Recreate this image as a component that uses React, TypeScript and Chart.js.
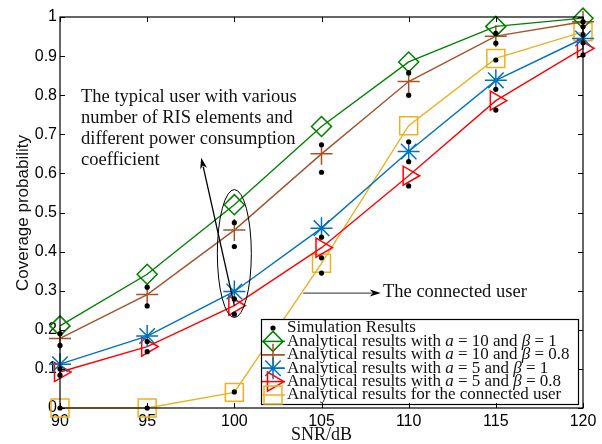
import React, { useEffect, useRef } from 'react';
import { Chart, registerables } from 'chart.js';
Chart.register(...registerables);

const snr = [90, 95, 100, 105, 110, 115, 120];
const xTicks = [90, 95, 100, 105, 110, 115, 120];
const yTicks = [0, 0.1, 0.2, 0.3, 0.4, 0.5, 0.6, 0.7, 0.8, 0.9, 1];

const anaA10B1 = [0.21, 0.342, 0.52, 0.72, 0.885, 0.976, 0.997];
const anaA10B08 = [0.178, 0.29, 0.455, 0.65, 0.835, 0.951, 0.988];
const anaA5B1 = [0.112, 0.184, 0.298, 0.46, 0.656, 0.838, 0.945];
const anaA5B08 = [0.092, 0.157, 0.262, 0.41, 0.594, 0.786, 0.92];
const anaConnected = [0, 0, 0.04, 0.37, 0.722, 0.894, 0.962];

const simA10B1 = [0.19, 0.309, 0.474, 0.673, 0.857, 0.958, 0.988];
const simA10B08 = [0.16, 0.261, 0.413, 0.603, 0.8, 0.933, 0.975];
const simA5B1 = [0.1, 0.17, 0.279, 0.437, 0.63, 0.815, 0.934];
const simA5B08 = [0.084, 0.144, 0.24, 0.384, 0.568, 0.762, 0.903];
const simConnected = [0, 0, 0.041, 0.345, 0.681, 0.89, 0.955];

const GREEN = '#008000';
const BROWN = '#A5522A';
const BLUE = '#0072BD';
const RED = '#FF0000';
const ORANGE = '#EDB120';

const SERIF = '"Liberation Serif", "Times New Roman", serif';
const SANS = '"Liberation Sans", Arial, sans-serif';

type Part = [string, boolean];

const legendEntries: { color: string; marker: string; parts: Part[] }[] = [
  { color: '#000', marker: 'dot', parts: [['Simulation Results', false]] },
  { color: GREEN, marker: 'diamond', parts: [['Analytical results with ', false], ['a', true], [' = 10 and ', false], ['β', true], [' = 1', false]] },
  { color: BROWN, marker: 'plus', parts: [['Analytical results with ', false], ['a', true], [' = 10 and ', false], ['β', true], [' = 0.8', false]] },
  { color: BLUE, marker: 'star', parts: [['Analytical results with ', false], ['a', true], [' = 5 and ', false], ['β', true], [' = 1', false]] },
  { color: RED, marker: 'tri', parts: [['Analytical results with ', false], ['a', true], [' = 5 and ', false], ['β', true], [' = 0.8', false]] },
  { color: ORANGE, marker: 'square', parts: [['Analytical results for the connected user', false]] },
];

const annoLines = [
  'The typical user with various',
  'number of RIS elements and',
  'different power consumption',
  'coefficient',
];

function drawMarker(ctx: CanvasRenderingContext2D, type: string, x: number, y: number, color: string) {
  ctx.save();
  ctx.strokeStyle = color;
  ctx.fillStyle = color;
  ctx.lineWidth = 1.5;
  ctx.beginPath();
  if (type === 'dot') {
    ctx.arc(x, y, 2.6, 0, Math.PI * 2);
    ctx.fill();
  } else if (type === 'diamond') {
    const r = 10;
    ctx.moveTo(x, y - r); ctx.lineTo(x + r, y); ctx.lineTo(x, y + r); ctx.lineTo(x - r, y); ctx.closePath();
    ctx.stroke();
  } else if (type === 'plus') {
    const r = 11;
    ctx.moveTo(x - r, y); ctx.lineTo(x + r, y); ctx.moveTo(x, y - r); ctx.lineTo(x, y + r);
    ctx.stroke();
  } else if (type === 'star') {
    const r = 11;
    const d = r * Math.SQRT1_2;
    ctx.moveTo(x - r, y); ctx.lineTo(x + r, y); ctx.moveTo(x, y - r); ctx.lineTo(x, y + r);
    ctx.moveTo(x - d, y - d); ctx.lineTo(x + d, y + d); ctx.moveTo(x - d, y + d); ctx.lineTo(x + d, y - d);
    ctx.stroke();
  } else if (type === 'tri') {
    const r = 11;
    ctx.moveTo(x + r, y); ctx.lineTo(x - r / 2, y - r * 0.866); ctx.lineTo(x - r / 2, y + r * 0.866); ctx.closePath();
    ctx.stroke();
  } else if (type === 'square') {
    const h = 9;
    ctx.rect(x - h, y - h, 2 * h, 2 * h);
    ctx.stroke();
  }
  ctx.restore();
}

function drawArrow(ctx: CanvasRenderingContext2D, x0: number, y0: number, x1: number, y1: number, lineColor: string) {
  const ang = Math.atan2(y1 - y0, x1 - x0);
  const L = 9, W = 3.5;
  const bx = x1 - L * Math.cos(ang), by = y1 - L * Math.sin(ang);
  ctx.save();
  ctx.strokeStyle = lineColor;
  ctx.lineWidth = 1.3;
  ctx.beginPath();
  ctx.moveTo(x0, y0);
  ctx.lineTo(bx, by);
  ctx.stroke();
  ctx.fillStyle = '#000';
  ctx.beginPath();
  ctx.moveTo(x1, y1);
  ctx.lineTo(bx - W * Math.sin(ang) - 2 * Math.cos(ang), by + W * Math.cos(ang) - 2 * Math.sin(ang));
  ctx.lineTo(bx + 1 * Math.cos(ang), by + 1 * Math.sin(ang));
  ctx.lineTo(bx + W * Math.sin(ang) - 2 * Math.cos(ang), by - W * Math.cos(ang) - 2 * Math.sin(ang));
  ctx.closePath();
  ctx.fill();
  ctx.restore();
}

const decorPlugin = {
  id: 'decor',
  afterDraw(chart: any) {
    const ctx: CanvasRenderingContext2D = chart.ctx;
    const xs = chart.scales.x;
    const ys = chart.scales.y;
    const { left, right, top, bottom } = chart.chartArea;

    // ellipse around 100 dB
    ctx.save();
    ctx.strokeStyle = '#000';
    ctx.lineWidth = 1;
    ctx.beginPath();
    ctx.ellipse(xs.getPixelForValue(100), ys.getPixelForValue(0.395), 17, 64, 0, 0, Math.PI * 2);
    ctx.stroke();
    ctx.restore();

    // arrows
    drawArrow(ctx, xs.getPixelForValue(100), ys.getPixelForValue(0.262), xs.getPixelForValue(98.1), ys.getPixelForValue(0.64), '#000');
    drawArrow(ctx, xs.getPixelForValue(103.95), ys.getPixelForValue(0.294), xs.getPixelForValue(108.4), ys.getPixelForValue(0.294), '#555');

    // annotation texts
    ctx.save();
    ctx.fillStyle = '#111';
    ctx.font = `18.5px ${SERIF}`;
    ctx.textBaseline = 'middle';
    ctx.textAlign = 'left';
    annoLines.forEach((t, i) => ctx.fillText(t, 81, 97 + i * 21));
    ctx.fillText('The connected user', 383, 292);
    ctx.restore();

    // legend
    const lx = 261, ly = 319, lw = 317, lh = 85;
    ctx.save();
    ctx.fillStyle = '#fff';
    ctx.fillRect(lx, ly, lw, lh);
    ctx.strokeStyle = '#000';
    ctx.lineWidth = 1.2;
    ctx.strokeRect(lx + 0.5, ly + 0.5, lw, lh);
    legendEntries.forEach((e, i) => {
      const cy = 328 + i * 13.4;
      if (e.marker !== 'dot') {
        ctx.strokeStyle = e.color;
        ctx.lineWidth = 1.5;
        ctx.beginPath();
        ctx.moveTo(262, cy);
        ctx.lineTo(285, cy);
        ctx.stroke();
      }
      drawMarker(ctx, e.marker, 273, cy, e.color);
      let tx = 287;
      ctx.fillStyle = '#111';
      ctx.textBaseline = 'middle';
      ctx.textAlign = 'left';
      e.parts.forEach(([t, it]) => {
        ctx.font = `${it ? 'italic ' : ''}17px ${SERIF}`;
        ctx.fillText(t, tx, cy);
        tx += ctx.measureText(t).width;
      });
    });
    ctx.restore();

    // frame and inward ticks
    ctx.save();
    ctx.strokeStyle = '#000';
    ctx.lineWidth = 1.2;
    ctx.strokeRect(left, top, right - left, bottom - top);
    ctx.lineWidth = 1;
    ctx.beginPath();
    xTicks.forEach((v) => {
      const px = Math.round(xs.getPixelForValue(v)) + 0.5;
      ctx.moveTo(px, bottom); ctx.lineTo(px, bottom - 5);
      ctx.moveTo(px, top); ctx.lineTo(px, top + 5);
    });
    yTicks.forEach((v) => {
      const py = Math.round(ys.getPixelForValue(v)) + 0.5;
      ctx.moveTo(left, py); ctx.lineTo(left + 5, py);
      ctx.moveTo(right, py); ctx.lineTo(right - 5, py);
    });
    ctx.stroke();
    ctx.restore();

    // axis titles
    ctx.save();
    ctx.fillStyle = '#111';
    ctx.textAlign = 'center';
    ctx.textBaseline = 'middle';
    ctx.font = `18px ${SERIF}`;
    ctx.fillText('SNR/dB', (left + right) / 2, 435);
    ctx.translate(23, 213);
    ctx.rotate(-Math.PI / 2);
    ctx.font = `17px ${SANS}`;
    ctx.fillText('Coverage probability', 0, 0);
    ctx.restore();
  },
};

function pts(arr: number[]) {
  return snr.map((x, i) => ({ x, y: arr[i] }));
}

function anaDs(label: string, arr: number[], color: string, style: string, radius: number, rotation = 0) {
  return {
    label,
    data: pts(arr),
    borderColor: color,
    backgroundColor: 'transparent',
    borderWidth: 1.4,
    pointStyle: style,
    pointRadius: radius,
    pointRotation: rotation,
    pointBorderColor: color,
    pointBackgroundColor: 'transparent',
    pointBorderWidth: 1.5,
    tension: 0,
    clip: false,
    order: 2,
  };
}

function simDs(label: string, arr: number[]) {
  return {
    label,
    data: pts(arr),
    showLine: false,
    pointStyle: 'circle',
    pointRadius: 2.6,
    pointBorderWidth: 0,
    pointBackgroundColor: '#000',
    pointBorderColor: '#000',
    borderColor: '#000',
    clip: false,
    order: 0,
  };
}

export default function App() {
  const ref = useRef<HTMLCanvasElement>(null);
  useEffect(() => {
    if (!ref.current) return;
    const chart = new Chart(ref.current, {
      type: 'line',
      data: {
        datasets: [
          simDs('sim1', simA10B1),
          simDs('sim2', simA10B08),
          simDs('sim3', simA5B1),
          simDs('sim4', simA5B08),
          simDs('sim5', simConnected),
          anaDs('a10b1', anaA10B1, GREEN, 'rectRot', 10),
          anaDs('a10b08', anaA10B08, BROWN, 'cross', 11),
          anaDs('a5b1', anaA5B1, BLUE, 'star', 11),
          anaDs('a5b08', anaA5B08, RED, 'triangle', 11, 90),
          anaDs('conn', anaConnected, ORANGE, 'rect', 12.7),
        ] as any,
      },
      options: {
        animation: false,
        responsive: false,
        devicePixelRatio: 1,
        layout: { padding: { top: 17, right: 19, left: 0, bottom: 0 } },
        plugins: { legend: { display: false }, tooltip: { enabled: false } },
        scales: {
          x: {
            type: 'linear',
            min: 90,
            max: 120,
            afterBuildTicks: (s: any) => { s.ticks = xTicks.map((v) => ({ value: v })); },
            ticks: { font: { family: SANS, size: 16 }, color: '#000', padding: 4, maxRotation: 0, autoSkip: false },
            grid: { display: false, drawTicks: false },
            border: { display: false },
            afterFit: (s: any) => { s.height = 36; },
          },
          y: {
            type: 'linear',
            min: 0,
            max: 1,
            afterBuildTicks: (s: any) => { s.ticks = yTicks.map((v) => ({ value: v })); },
            ticks: {
              font: { family: SANS, size: 16 },
              color: '#000',
              padding: 3,
              autoSkip: false,
              callback: (v: any) => String(Math.round(Number(v) * 10) / 10),
            },
            grid: { display: false, drawTicks: false },
            border: { display: false },
            afterFit: (s: any) => { s.width = 60; },
          },
        },
      } as any,
      plugins: [decorPlugin],
    });
    return () => chart.destroy();
  }, []);
  return (
    <div style={{ position: 'absolute', left: 0, top: 0, width: 602, height: 444, background: '#fff' }}>
      <canvas ref={ref} width={602} height={444} style={{ display: 'block' }} />
    </div>
  );
}
